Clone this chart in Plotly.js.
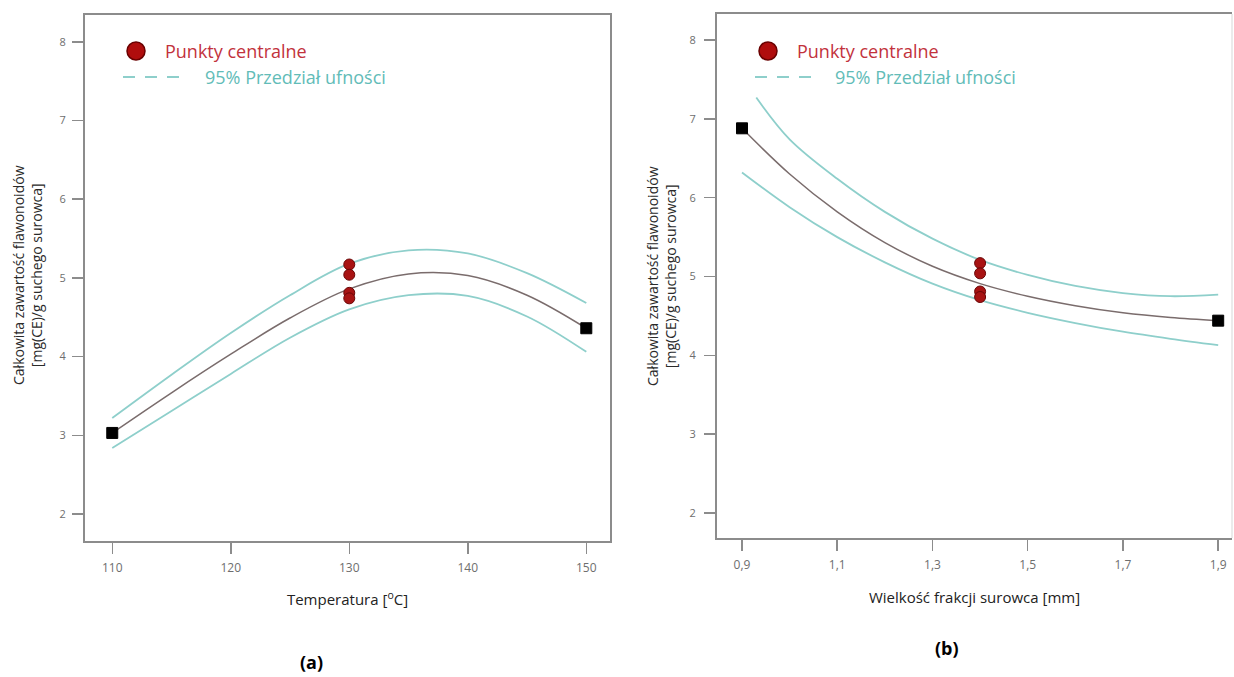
<!DOCTYPE html>
<html>
<head>
<meta charset="utf-8">
<script src="https://cdn.plot.ly/plotly-3.0.1.min.js"></script>
<style>
  html, body { margin: 0; padding: 0; background: #ffffff; }
  #chart { width: 1234px; height: 677px; }
</style>
</head>
<body>
<div id="chart"></div>
<script>
// (a) response vs. extraction temperature
const tempX      = [110, 115, 120, 125, 130, 135, 140, 145, 150];
const tempFit    = [3.03, 3.54, 4.03, 4.49, 4.86, 5.05, 5.03, 4.78, 4.36];
const tempUpper  = [3.22, 3.77, 4.30, 4.78, 5.18, 5.35, 5.31, 5.06, 4.68];
const tempLower  = [2.84, 3.31, 3.78, 4.24, 4.60, 4.78, 4.77, 4.51, 4.06];
const tempEndX   = [110, 150];
const tempEndY   = [3.03, 4.36];
const tempCenterX = [130, 130, 130, 130];
const centerY    = [5.17, 5.04, 4.81, 4.74];
const tempTicks  = [110, 120, 130, 140, 150];
const tempTickText = ['110', '120', '130', '140', '150'];

// (b) response vs. particle size
const fracX      = [0.9, 1.0, 1.1, 1.2, 1.3, 1.4, 1.5, 1.6, 1.7, 1.8, 1.9];
const fracFit    = [6.88, 6.30, 5.82, 5.43, 5.13, 4.91, 4.75, 4.63, 4.54, 4.48, 4.44];
const fracUpperX = [0.93, 1.0, 1.1, 1.2, 1.3, 1.4, 1.5, 1.6, 1.7, 1.8, 1.9];
const fracUpper  = [7.27, 6.74, 6.24, 5.82, 5.48, 5.21, 5.02, 4.88, 4.79, 4.75, 4.77];
const fracLower  = [6.32, 5.88, 5.50, 5.18, 4.91, 4.70, 4.54, 4.41, 4.30, 4.21, 4.13];
const fracEndX   = [0.9, 1.9];
const fracEndY   = [6.88, 4.44];
const fracCenterX = [1.4, 1.4, 1.4, 1.4];
const fracTicks  = [0.9, 1.1, 1.3, 1.5, 1.7, 1.9];
const fracTickText = ['0,9', '1,1', '1,3', '1,5', '1,7', '1,9'];

const yTicks     = [2, 3, 4, 5, 6, 7, 8];
const yTickText  = ['2', '3', '4', '5', '6', '7', '8'];

const legendLabels = ['Punkty centralne', '95% Przedział ufności'];
const yTitle = 'Całkowita zawartość flawonoidów<br>[mg(CE)/g suchego surowca]';

const W = 1234, H = 677;
const FONT = '"Open Sans", "Noto Sans", sans-serif';
const FIT_COLOR = '#7a6c6c';
const CI_COLOR = '#8ecfcb';
const RED = '#a81313';
const RED_EDGE = '#6a0606';
const LEGEND_RED = '#c2323c';
const LEGEND_TEAL = '#62bcb8';
const AXIS_COLOR = '#8c8c8c';

const px = v => v / W;
const py = v => 1 - v / H;

function lineTrace(x, y, color, width, xa, ya) {
  return { x, y, xaxis: xa, yaxis: ya, type: 'scatter', mode: 'lines',
           line: { color, width, shape: 'spline', smoothing: 1 },
           hoverinfo: 'skip', showlegend: false };
}
function markerTrace(x, y, symbol, size, color, edge, xa, ya) {
  return { x, y, xaxis: xa, yaxis: ya, type: 'scatter', mode: 'markers',
           marker: { symbol, size, color, line: { color: edge, width: 1 } },
           showlegend: false };
}

const traces = [
  lineTrace(tempX, tempUpper, CI_COLOR, 1.8, 'x', 'y'),
  lineTrace(tempX, tempLower, CI_COLOR, 1.8, 'x', 'y'),
  lineTrace(tempX, tempFit, FIT_COLOR, 1.5, 'x', 'y'),
  markerTrace(tempEndX, tempEndY, 'square', 11, '#000000', '#000000', 'x', 'y'),
  markerTrace(tempCenterX, centerY, 'circle', 11, RED, RED_EDGE, 'x', 'y'),

  lineTrace(fracUpperX, fracUpper, CI_COLOR, 1.8, 'x2', 'y2'),
  lineTrace(fracX, fracLower, CI_COLOR, 1.8, 'x2', 'y2'),
  lineTrace(fracX, fracFit, FIT_COLOR, 1.5, 'x2', 'y2'),
  markerTrace(fracEndX, fracEndY, 'square', 11, '#000000', '#000000', 'x2', 'y2'),
  markerTrace(fracCenterX, centerY, 'circle', 11, RED, RED_EDGE, 'x2', 'y2')
];

function xAxis(domain, range, tickvals, ticktext, title, anchor, standoff) {
  return {
    domain, range, anchor, tickvals, ticktext,
    showline: true, mirror: true, linecolor: AXIS_COLOR, linewidth: 2,
    ticks: 'outside', ticklen: 11, tickwidth: 1.5, tickcolor: AXIS_COLOR,
    ticklabelstandoff: 4,
    showgrid: false, zeroline: false, fixedrange: true,
    tickfont: { family: FONT, size: 12, color: '#6e6e6e' },
    title: { text: title, standoff, font: { family: FONT, size: 15, color: '#222222' } }
  };
}
function yAxis(domain, range, anchor, labelGap, mirror) {
  return {
    domain, range, anchor, tickvals: yTicks, ticktext: yTickText,
    showline: true, mirror, linecolor: AXIS_COLOR, linewidth: 2,
    ticks: 'outside', ticklen: 11, tickwidth: 1.5, tickcolor: AXIS_COLOR,
    ticklabelstandoff: labelGap,
    showgrid: false, zeroline: false, fixedrange: true,
    tickfont: { family: FONT, size: 11, color: '#6e6e6e' }
  };
}

// vertical axis caption, placed beside each panel
function yCaption(x, y) {
  return { xref: 'paper', yref: 'paper', x: px(x), y: py(y), xanchor: 'center', yanchor: 'middle',
           text: yTitle, textangle: -90, showarrow: false,
           font: { family: FONT, size: 14, color: '#2a2a2a' } };
}

// hand-drawn legend block for one panel (marker + dashed line + labels)
function legendShapes(cx, dashX0) {
  return [
    { type: 'circle', xref: 'paper', yref: 'paper',
      x0: px(cx - 9), x1: px(cx + 9), y0: py(51 + 9), y1: py(51 - 9),
      fillcolor: '#b00d0d', line: { color: '#6a0000', width: 1.5 } },
    { type: 'line', xref: 'paper', yref: 'paper',
      x0: px(dashX0), x1: px(dashX0 + 62), y0: py(77), y1: py(77),
      line: { color: CI_COLOR, width: 2, dash: '12px,10px' } }
  ];
}
function legendNotes(tx1, tx2) {
  return [
    { xref: 'paper', yref: 'paper', x: px(tx1), y: py(51), xanchor: 'left', yanchor: 'middle',
      text: legendLabels[0], showarrow: false, font: { family: FONT, size: 18, color: LEGEND_RED } },
    { xref: 'paper', yref: 'paper', x: px(tx2), y: py(77), xanchor: 'left', yanchor: 'middle',
      text: legendLabels[1], showarrow: false, font: { family: FONT, size: 18, color: LEGEND_TEAL } }
  ];
}

const layout = {
  width: W, height: H,
  margin: { l: 0, r: 0, t: 0, b: 0 },
  paper_bgcolor: '#ffffff', plot_bgcolor: '#ffffff',
  showlegend: false,
  font: { family: FONT },
  xaxis: xAxis([px(85), px(610)], [107.7, 152.0], tempTicks, tempTickText,
               'Temperatura [<sup>o</sup>C]', 'y', 19),
  yaxis: yAxis([1 - 541 / H, 1 - 15 / H], [1.657, 8.34], 'x', 4, true),
  xaxis2: xAxis([px(717), px(1232)], [0.8475, 1.929], fracTicks, fracTickText,
                'Wielkość frakcji surowca [mm]', 'y2', 20),
  yaxis2: yAxis([1 - 538 / H, 1 - 14 / H], [1.683, 8.33], 'x2', 6, false),
  shapes: [
    ...legendShapes(136, 123), ...legendShapes(768, 755),
    // faint right edge of panel (b)
    { type: 'line', xref: 'x2 domain', yref: 'y2 domain', x0: 1, x1: 1, y0: 0, y1: 1,
      line: { color: '#e4e4e4', width: 1.5 } }
  ],
  annotations: [
    yCaption(27, 275), yCaption(661, 276),
    ...legendNotes(163, 203), ...legendNotes(795, 833),
    { xref: 'paper', yref: 'paper', x: px(312), y: py(662), xanchor: 'center', yanchor: 'middle',
      text: '<b>(a)</b>', showarrow: false, font: { family: FONT, size: 18, color: '#000000' } },
    { xref: 'paper', yref: 'paper', x: px(947), y: py(648), xanchor: 'center', yanchor: 'middle',
      text: '<b>(b)</b>', showarrow: false, font: { family: FONT, size: 18, color: '#000000' } }
  ]
};

Plotly.newPlot('chart', traces, layout, { displayModeBar: false, staticPlot: true });
</script>
</body>
</html>
